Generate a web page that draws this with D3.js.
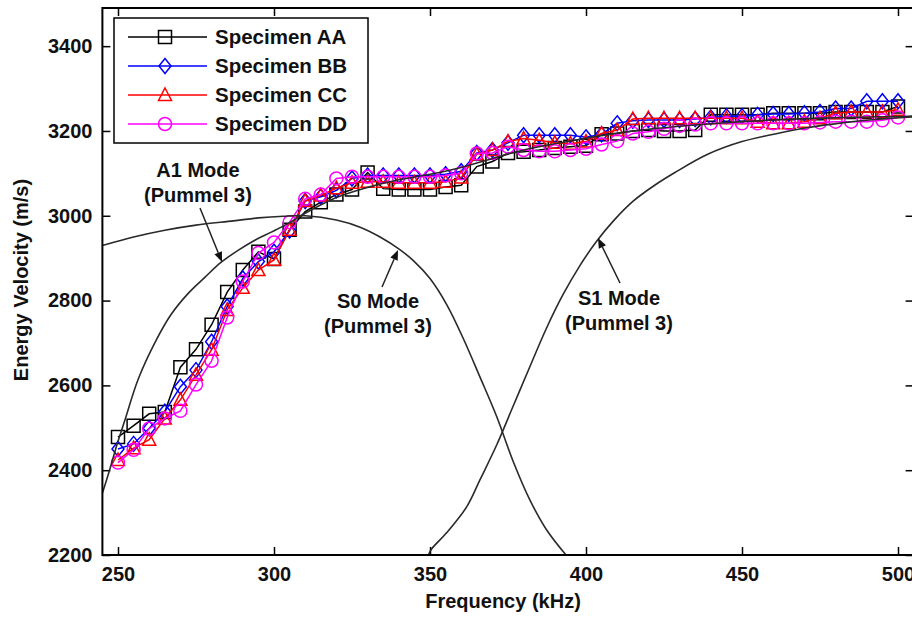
<!DOCTYPE html>
<html>
<head>
<meta charset="utf-8">
<script src="https://cdn.jsdelivr.net/npm/d3@7"></script>
<style>
  body { margin: 0; background: #fff; }
  svg { display: block; }
  text { font-family: "Liberation Sans", Arial, sans-serif; font-weight: bold; fill: #111; }
</style>
</head>
<body>
<svg width="912" height="617"></svg>
<script>
// ***Data***
var freq = [250, 255, 260, 265, 270, 275, 280, 285, 290, 295, 300, 305, 310, 315, 320, 325, 330,
            335, 340, 345, 350, 355, 360, 365, 370, 375, 380, 385, 390, 395, 400, 405, 410, 415,
            420, 425, 430, 435, 440, 445, 450, 455, 460, 465, 470, 475, 480, 485, 490, 495, 500];

var specAA = [2478, 2505, 2533, 2537, 2643, 2685, 2743, 2820, 2872, 2915, 2898, 2967, 3010, 3032, 3050, 3062, 3102,
              3064, 3062, 3062, 3062, 3068, 3072, 3116, 3128, 3148, 3151, 3155, 3160, 3163, 3165, 3192, 3194, 3200,
              3202, 3200, 3200, 3202, 3238, 3238, 3238, 3238, 3242, 3242, 3242, 3242, 3245, 3245, 3245, 3245, 3258];
var specBB = [2450, 2462, 2499, 2538, 2597, 2636, 2703, 2786, 2852, 2892, 2915, 2965, 3035, 3045, 3060, 3088, 3095,
              3095, 3095, 3095, 3095, 3098, 3105, 3148, 3155, 3172, 3190, 3190, 3190, 3190, 3185, 3192, 3218, 3224,
              3226, 3226, 3226, 3228, 3232, 3235, 3235, 3238, 3240, 3240, 3242, 3245, 3253, 3253, 3270, 3270, 3270];
var specCC = [2424, 2452, 2472, 2522, 2566, 2625, 2684, 2778, 2830, 2872, 2896, 2967, 3035, 3048, 3065, 3078, 3080,
              3080, 3078, 3078, 3078, 3080, 3090, 3145, 3155, 3175, 3182, 3178, 3172, 3170, 3175, 3194, 3202, 3228,
              3230, 3230, 3230, 3230, 3230, 3230, 3230, 3222, 3218, 3218, 3222, 3230, 3242, 3245, 3245, 3245, 3250];
var specDD = [2418, 2448, 2498, 2522, 2540, 2602, 2658, 2760, 2845, 2912, 2937, 2985, 3040, 3050, 3088, 3092, 3092,
              3092, 3092, 3092, 3092, 3095, 3100, 3147, 3148, 3163, 3155, 3152, 3152, 3155, 3158, 3168, 3176, 3194,
              3198, 3205, 3212, 3215, 3218, 3218, 3218, 3218, 3218, 3218, 3218, 3220, 3222, 3222, 3222, 3225, 3232];

var seriesNames = ["Specimen AA", "Specimen BB", "Specimen CC", "Specimen DD"];
var seriesColors = ["#000000", "#0000ff", "#ff0000", "#ff00ff"];
var seriesMarkers = ["square", "diamond", "triangle", "circle"];

// Pummel 3 theoretical modes, [frequency, velocity]
var modeA1 = [[245, 2346], [247, 2393], [250, 2468], [252.2, 2518], [256.5, 2615], [262, 2703], [267, 2767],
              [272.5, 2817], [278, 2856], [283, 2890], [288.6, 2919], [294, 2943], [299.3, 2962], [304.6, 2982],
              [310, 3006], [320, 3043], [330, 3067], [340, 3085], [350, 3098], [360, 3114], [370, 3135],
              [380, 3155], [390, 3170], [400, 3183], [410, 3195], [420, 3204], [430, 3211], [440, 3217],
              [450, 3222], [460, 3226], [470, 3229], [480, 3231], [490, 3233], [500, 3234], [505, 3235]];
var modeS0 = [[245, 2930], [255, 2950], [265, 2966], [275, 2978], [287, 2988], [295, 2995], [303, 2999],
              [310, 3000], [320, 2990], [328, 2972], [334, 2950], [340, 2922], [345, 2892], [350, 2852],
              [355.4, 2790], [360.7, 2710], [366, 2620], [371.4, 2526], [376.7, 2420], [382, 2330],
              [387.4, 2259], [393.6, 2200]];
var modeS1 = [[349.5, 2200], [350.5, 2214], [355.4, 2253], [361.8, 2314], [366, 2377], [371.4, 2460],
              [376.7, 2552], [382, 2644], [387.4, 2736], [392.7, 2815], [398, 2882], [403.4, 2940],
              [408.8, 2988], [415.2, 3035], [422, 3072], [428.5, 3102], [439, 3145], [450, 3175],
              [460.6, 3193], [471.3, 3208], [482, 3219], [492.7, 3227], [505, 3233]];

var xTicks = [250, 300, 350, 400, 450, 500];
var yTicks = [2200, 2400, 2600, 2800, 3000, 3200, 3400];

// ***Layout***
var svg = d3.select("svg");
var margin = {left: 102.4, top: 8};
var width = 811.2, height = 547;

var x = d3.scaleLinear().domain([245, 505]).range([0, width]);
var y = d3.scaleLinear().domain([2200, 3490]).range([height, 0]);

var g = svg.append("g").attr("transform", "translate(" + margin.left + "," + margin.top + ")");

g.append("clipPath").attr("id", "plotclip")
  .append("rect").attr("width", width).attr("height", height);

// axes with inward ticks
function styleAxis(sel) {
  sel.select(".domain").remove();
  sel.selectAll(".tick line").attr("stroke", "#000").attr("stroke-width", 1.5);
  sel.selectAll(".tick text").style("font-size", "20px").attr("fill", "#111");
}

var fmt = d3.format("d");

g.append("g").attr("transform", "translate(0," + height + ")")
  .call(d3.axisBottom(x).tickValues(xTicks).tickFormat(fmt).tickSizeInner(-8).tickSizeOuter(0).tickPadding(12))
  .call(styleAxis);
g.append("g")
  .call(d3.axisTop(x).tickValues(xTicks).tickSizeInner(-8).tickSizeOuter(0).tickFormat(""))
  .call(styleAxis);
g.append("g")
  .call(d3.axisLeft(y).tickValues(yTicks).tickFormat(fmt).tickSizeInner(-8).tickSizeOuter(0).tickPadding(10))
  .call(styleAxis);
g.append("g").attr("transform", "translate(" + width + ",0)")
  .call(d3.axisRight(y).tickValues(yTicks).tickSizeInner(-8).tickSizeOuter(0).tickFormat(""))
  .call(styleAxis);

// axis titles
svg.append("text")
  .attr("x", 503).attr("y", 608)
  .attr("text-anchor", "middle")
  .style("font-size", "20px")
  .text("Frequency (kHz)");

svg.append("text")
  .attr("transform", "translate(28,280) rotate(-90)")
  .attr("text-anchor", "middle")
  .style("font-size", "20px")
  .text("Energy Velocity (m/s)");

// ***Marker shapes***
function markerPath(type) {
  if (type === "square") return "M-6.5,-6.5H6.5V6.5H-6.5Z";
  if (type === "diamond") return "M0,-7.5L6,0L0,7.5L-6,0Z";
  if (type === "triangle") return "M0,-7L6.5,5.5H-6.5Z";
  return "M6.5,0A6.5,6.5 0 1,1 -6.5,0A6.5,6.5 0 1,1 6.5,0Z";
}

// ***Measured series***
var plot = g.append("g").attr("clip-path", "url(#plotclip)");
var allSeries = [specAA, specBB, specCC, specDD];

var line = d3.line()
  .x(function(d) { return x(d[0]); })
  .y(function(d) { return y(d[1]); });

allSeries.forEach(function(vals, i) {
  var pts = freq.map(function(f, j) { return [f, vals[j]]; });
  var sg = plot.append("g");
  sg.append("path")
    .datum(pts)
    .attr("d", line)
    .attr("fill", "none")
    .attr("stroke", seriesColors[i])
    .attr("stroke-width", 1.5);
  sg.selectAll("path.marker")
    .data(pts)
    .enter().append("path")
    .attr("class", "marker")
    .attr("d", markerPath(seriesMarkers[i]))
    .attr("transform", function(d) { return "translate(" + x(d[0]) + "," + y(d[1]) + ")"; })
    .attr("fill", "none")
    .attr("stroke", seriesColors[i])
    .attr("stroke-width", 1.5);
});

// ***Theoretical curves***
var curve = d3.line()
  .x(function(d) { return x(d[0]); })
  .y(function(d) { return y(d[1]); })
  .curve(d3.curveCatmullRom.alpha(0.5));

[modeA1, modeS0, modeS1].forEach(function(m) {
  plot.append("path")
    .datum(m)
    .attr("d", curve)
    .attr("fill", "none")
    .attr("stroke", "#2a2a2a")
    .attr("stroke-width", 1.6);
});

// frame
g.append("rect")
  .attr("width", width).attr("height", height)
  .attr("fill", "none").attr("stroke", "#000").attr("stroke-width", 2);

// ***Annotations***
var notes = [
  {lines: ["A1 Mode", "(Pummel 3)"], cx: 198, y0: 177, from: [200, 208], to: [222, 262]},
  {lines: ["S0 Mode", "(Pummel 3)"], cx: 378, y0: 308, from: [382, 287], to: [398, 250]},
  {lines: ["S1 Mode", "(Pummel 3)"], cx: 619, y0: 305, from: [620, 283], to: [598, 238]}
];

notes.forEach(function(n) {
  n.lines.forEach(function(t, k) {
    svg.append("text")
      .attr("x", n.cx).attr("y", n.y0 + k * 25)
      .attr("text-anchor", "middle")
      .style("font-size", "20px")
      .text(t);
  });
  var dx = n.to[0] - n.from[0], dy = n.to[1] - n.from[1];
  var len = Math.sqrt(dx * dx + dy * dy);
  var ux = dx / len, uy = dy / len;
  var hl = 10, hw = 4;
  var bx = n.to[0] - ux * hl, by = n.to[1] - uy * hl;
  svg.append("line")
    .attr("x1", n.from[0]).attr("y1", n.from[1])
    .attr("x2", bx).attr("y2", by)
    .attr("stroke", "#222").attr("stroke-width", 1.5);
  svg.append("path")
    .attr("d", "M" + n.to[0] + "," + n.to[1] +
               "L" + (bx - uy * hw) + "," + (by + ux * hw) +
               "L" + (bx + uy * hw) + "," + (by - ux * hw) + "Z")
    .attr("fill", "#111");
});

// ***Legend***
var legend = svg.append("g");
legend.append("rect")
  .attr("x", 114).attr("y", 18).attr("width", 254).attr("height", 125)
  .attr("fill", "#fff").attr("stroke", "#000").attr("stroke-width", 1.5);

var rowY = [37, 66, 95, 124];
seriesNames.forEach(function(name, i) {
  legend.append("line")
    .attr("x1", 128).attr("x2", 207).attr("y1", rowY[i]).attr("y2", rowY[i])
    .attr("stroke", seriesColors[i]).attr("stroke-width", 1.5);
  legend.append("path")
    .attr("d", markerPath(seriesMarkers[i]))
    .attr("transform", "translate(165," + rowY[i] + ")")
    .attr("fill", "none").attr("stroke", seriesColors[i]).attr("stroke-width", 1.5);
  legend.append("text")
    .attr("x", 215).attr("y", rowY[i] + 7)
    .style("font-size", "20.5px")
    .text(name);
});
</script>
</body>
</html>
